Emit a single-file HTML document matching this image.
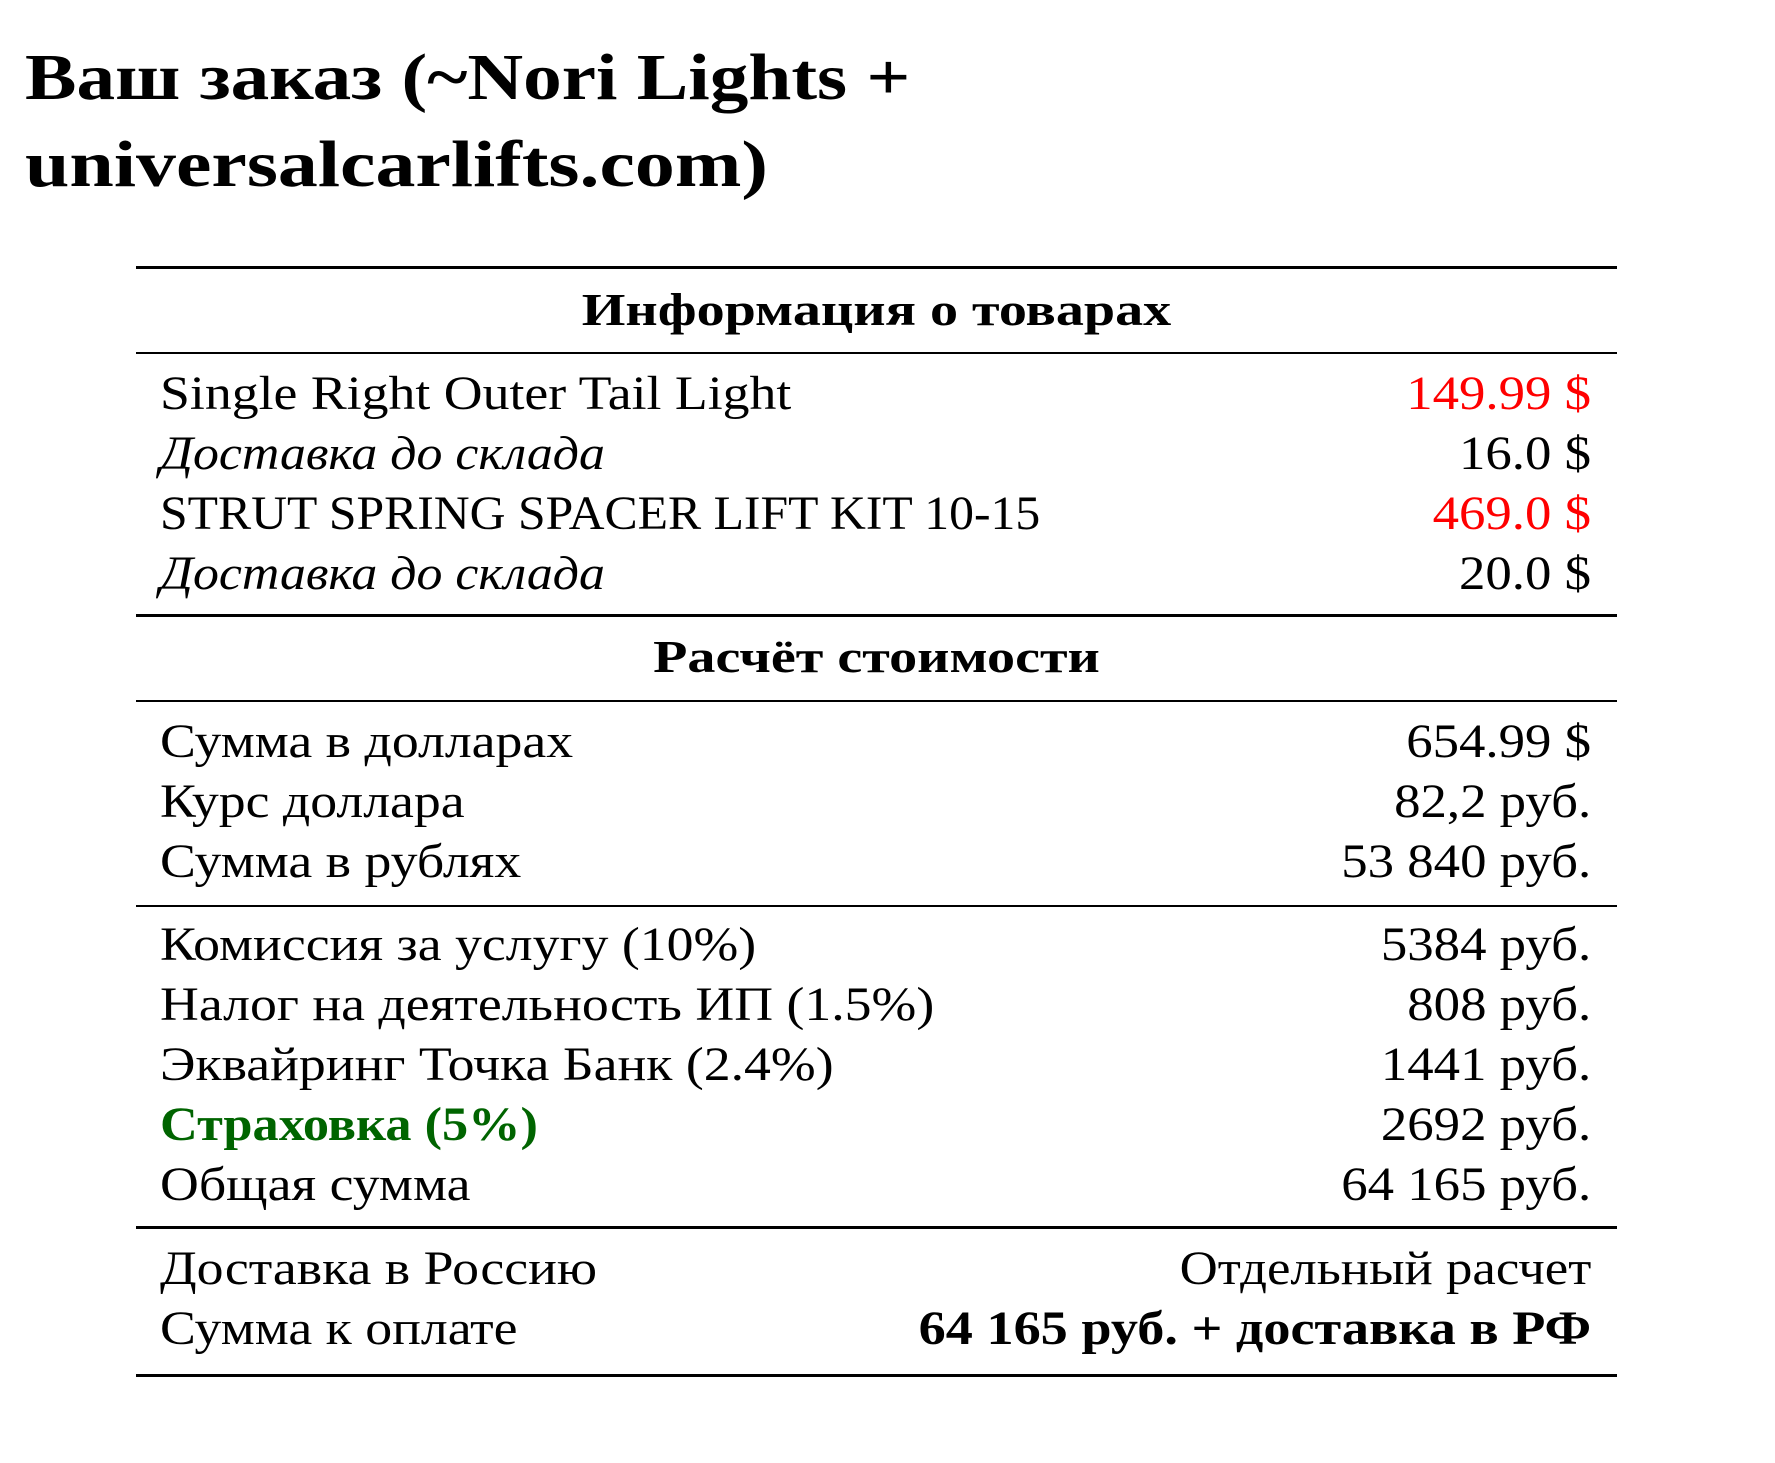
<!DOCTYPE html>
<html><head><meta charset="utf-8"><style>
body{margin:0;width:1775px;height:1463px;background:#fff;position:relative;overflow:hidden;font-family:"Liberation Serif",serif;color:#000}
.t{position:absolute;left:25px;font-weight:bold;font-size:66px;line-height:66px;white-space:nowrap;transform:scaleX(1.17);transform-origin:left}
.r{position:absolute;left:160px;width:1431px;font-size:48px;line-height:48px;white-space:nowrap;display:flex;justify-content:space-between}
.r>span:first-child,.r>i,.r>b:first-child{display:inline-block;transform:scaleX(1.12);transform-origin:left}
.r>*:last-child{display:inline-block;transform:scaleX(1.1);transform-origin:right}
.r>i{transform:scaleX(1.08)!important}
.r>span.g{transform:scaleX(1.09)}
.r>span.s{transform:scaleX(1.035)}
.r>b:last-child{transform:scaleX(1.13)}
.h{position:absolute;left:136px;width:1481px;text-align:center;font-weight:bold;font-size:46px;line-height:46px;transform:scaleX(1.22)}
.l{position:absolute;left:136px;width:1481px;background:#000}
.red{color:#f00}.g{color:#006400;font-weight:bold}i{font-style:italic}b{font-weight:bold}
</style></head><body>
<div class="t" style="top:45px">Ваш заказ (~Nori Lights +</div>
<div class="t" style="top:132px;transform:scaleX(1.21)">universalcarlifts.com)</div>
<div class="l" style="top:266px;height:3px"></div>
<div class="h" style="top:287px">Информация о товарах</div>
<div class="l" style="top:352px;height:2px"></div>
<div class="r" style="top:370px"><span>Single Right Outer Tail Light</span><span class="red">149.99 $</span></div>
<div class="r" style="top:430px"><i>Доставка до склада</i><span>16.0 $</span></div>
<div class="r" style="top:490px"><span class="s">STRUT SPRING SPACER LIFT KIT 10-15</span><span class="red">469.0 $</span></div>
<div class="r" style="top:550px"><i>Доставка до склада</i><span>20.0 $</span></div>
<div class="l" style="top:614px;height:3px"></div>
<div class="h" style="top:634px">Расчёт стоимости</div>
<div class="l" style="top:700px;height:2px"></div>
<div class="r" style="top:718px"><span>Сумма в долларах</span><span>654.99 $</span></div>
<div class="r" style="top:778px"><span>Курс доллара</span><span>82,2 руб.</span></div>
<div class="r" style="top:838px"><span>Сумма в рублях</span><span>53 840 руб.</span></div>
<div class="l" style="top:905px;height:2px"></div>
<div class="r" style="top:921px"><span>Комиссия за услугу (10%)</span><span>5384 руб.</span></div>
<div class="r" style="top:981px"><span>Налог на деятельность ИП (1.5%)</span><span>808 руб.</span></div>
<div class="r" style="top:1041px"><span>Эквайринг Точка Банк (2.4%)</span><span>1441 руб.</span></div>
<div class="r" style="top:1101px"><span class="g">Страховка (5%)</span><span>2692 руб.</span></div>
<div class="r" style="top:1161px"><span>Общая сумма</span><span>64 165 руб.</span></div>
<div class="l" style="top:1226px;height:3px"></div>
<div class="r" style="top:1245px"><span>Доставка в Россию</span><span>Отдельный расчет</span></div>
<div class="r" style="top:1305px"><span>Сумма к оплате</span><b>64 165 руб. + доставка в РФ</b></div>
<div class="l" style="top:1374px;height:3px"></div>
</body></html>
